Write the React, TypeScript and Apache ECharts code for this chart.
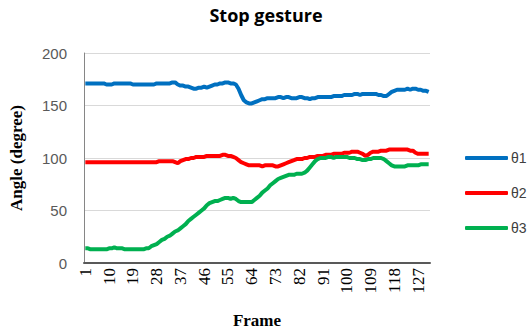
import React, { useEffect, useRef } from "react";
import * as echarts from "echarts";

const frames: string[] = [];
for (let i = 1; i <= 131; i++) frames.push(String(i));

const theta1 = [
  171, 171, 171, 171, 171, 171, 171, 171, 170,
  170, 170, 171, 171, 171, 171, 171, 171, 171,
  170, 170, 170, 170, 170, 170, 170, 170, 170,
  171, 171, 171, 171, 171, 171, 172, 172, 170,
  169, 169, 168, 168, 167, 166, 166, 167, 167,
  168, 167, 168, 169, 170, 170, 171, 171, 172,
  172, 171, 171, 170, 166, 160, 155, 153, 152,
  152, 153, 154, 155, 156, 156, 157, 157, 157,
  157, 158, 158, 157, 158, 158, 157, 157, 157,
  158, 158, 157, 157, 156, 157, 157, 158, 158,
  158, 158, 158, 158, 159, 159, 159, 159, 160,
  160, 160, 160, 161, 161, 160, 161, 161, 161,
  161, 161, 161, 160, 160, 159, 159, 161, 163,
  164, 165, 165, 165, 165, 166, 165, 166, 166,
  165, 165, 164, 164, 163,
];

const theta2 = [
  96, 96, 96, 96, 96, 96, 96, 96, 96,
  96, 96, 96, 96, 96, 96, 96, 96, 96,
  96, 96, 96, 96, 96, 96, 96, 96, 96,
  96, 97, 97, 97, 97, 97, 97, 96, 95,
  97, 98, 99, 99, 100, 100, 101, 101, 101,
  101, 102, 102, 102, 102, 102, 102, 103, 103,
  102, 102, 101, 100, 98, 96, 95, 94, 93,
  93, 93, 93, 93, 92, 93, 93, 93, 93,
  92, 92, 93, 94, 95, 96, 97, 98, 99,
  99, 99, 100, 100, 101, 101, 101, 102, 102,
  102, 103, 103, 103, 104, 104, 104, 104, 105,
  105, 105, 106, 106, 106, 105, 104, 102, 103,
  105, 106, 106, 106, 107, 107, 107, 108, 108,
  108, 108, 108, 108, 108, 108, 107, 107, 105,
  104, 104, 104, 104, 104,
];

const theta3 = [
  14, 14, 13, 13, 13, 13, 13, 13, 13,
  14, 14, 15, 14, 14, 14, 13, 13, 13,
  13, 13, 13, 13, 13, 14, 14, 16, 17,
  18, 20, 22, 23, 25, 26, 28, 30, 31,
  33, 35, 37, 40, 42, 44, 46, 48, 50,
  52, 55, 57, 58, 59, 59, 60, 61, 62,
  62, 61, 62, 61, 59, 58, 58, 58, 58,
  58, 60, 62, 64, 67, 69, 71, 74, 76,
  78, 80, 81, 82, 83, 84, 84, 84, 85,
  85, 85, 86, 88, 91, 94, 97, 99, 100,
  100, 100, 101, 101, 100, 101, 101, 101, 101,
  101, 100, 100, 100, 99, 99, 98, 98, 99,
  99, 100, 100, 100, 100, 99, 97, 95, 93,
  92, 92, 92, 92, 92, 93, 93, 93, 93,
  93, 94, 94, 94, 94,
];

const seriesNames = ["θ1", "θ2", "θ3"];
const colors = ["#0070c0", "#ff0000", "#00b050"];

export default function App() {
  const ref = useRef<HTMLDivElement>(null);
  useEffect(() => {
    if (!ref.current) return;
    const chart = echarts.init(ref.current, undefined, { renderer: "svg" });
    const data = [theta1, theta2, theta3];
    chart.setOption({
      animation: false,
      title: {
        text: "Stop gesture",
        left: 261,
        textAlign: "center",
        top: 1,
        textStyle: { fontFamily: "Open Sans", fontWeight: "bold", fontSize: 18, color: "#000" },
      },
      legend: {
        orient: "vertical",
        left: 460,
        top: 146,
        itemWidth: 43,
        itemHeight: 4,
        itemGap: 21,
        icon: "roundRect",
        textStyle: { fontFamily: "Liberation Sans", fontSize: 14, color: "#404040", padding: [0, 0, 0, -2] },
        data: seriesNames,
      },
      grid: { left: 79, right: 97, top: 53, bottom: 71 },
      xAxis: {
        type: "category",
        data: frames,
        name: "Frame",
        nameLocation: "middle",
        nameGap: 49,
        nameTextStyle: { fontFamily: "Liberation Serif", fontWeight: "bold", fontSize: 17, color: "#000" },
        axisLine: { lineStyle: { color: "#595959", width: 2 } },
        axisTick: { show: false },
        axisLabel: {
          interval: 8,
          rotate: 90,
          fontFamily: "Liberation Serif",
          fontSize: 17,
          color: "#000",
          margin: 5,
        },
      },
      yAxis: {
        type: "value",
        min: 0,
        max: 200,
        interval: 50,
        name: "Angle (degree)",
        nameLocation: "middle",
        nameGap: 59,
        nameTextStyle: { fontFamily: "Liberation Serif", fontWeight: "bold", fontSize: 17, color: "#000" },
        axisLine: { show: true, lineStyle: { color: "#868686", width: 1 } },
        axisTick: { show: false },
        axisLabel: { fontFamily: "Liberation Sans", fontSize: 15, color: "#595959", margin: 17 },
        splitLine: { lineStyle: { color: "#d9d9d9", width: 1 } },
      },
      series: data.map((d, i) => ({
        name: seriesNames[i],
        type: "line",
        data: d,
        symbol: "none",
        lineStyle: { color: colors[i], width: 4 },
        itemStyle: { color: colors[i] },
      })),
    });
    return () => chart.dispose();
  }, []);
  return <div ref={ref} style={{ width: 527, height: 334, position: "absolute", left: 0, top: 0 }} />;
}
